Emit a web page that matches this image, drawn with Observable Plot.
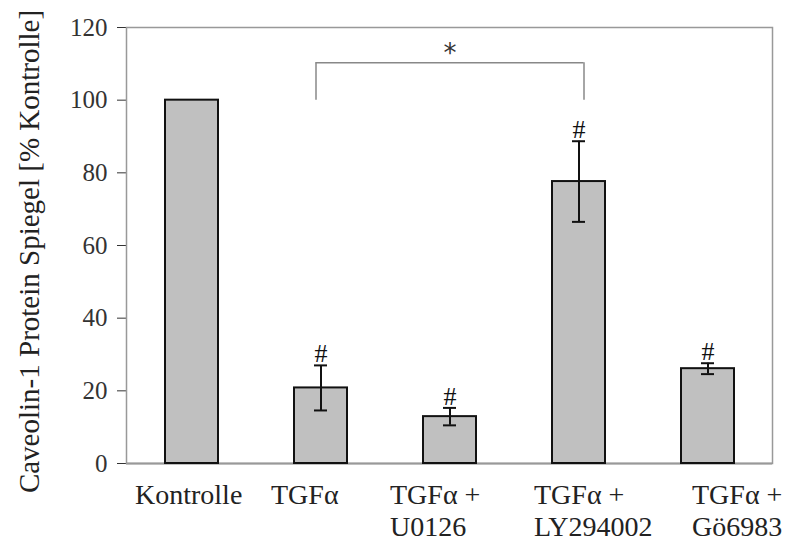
<!DOCTYPE html>
<html>
<head>
<meta charset="utf-8">
<script src="https://cdn.jsdelivr.net/npm/d3@7"></script>
<script src="https://cdn.jsdelivr.net/npm/@observablehq/plot@0.6"></script>
<style>
  html, body { margin: 0; padding: 0; background: #fff; }
  #chart svg { display: block; }
</style>
</head>
<body>
<div id="chart"></div>
<script>
const categories = ["Kontrolle", "TGFα", "TGFα + U0126", "TGFα + LY294002", "TGFα + Gö6983"];
const labelLines = ["Kontrolle", "TGFα", "TGFα +\nU0126", "TGFα +\nLY294002", "TGFα +\nGö6983"];
const values = [100, 20.8, 12.9, 77.6, 26.1];
const errors = [null, 6.2, 2.4, 11.1, 1.5];
const marked = [false, true, true, true, true];
const yTicks = [0, 20, 40, 60, 80, 100, 120];
const bracketPair = ["TGFα", "TGFα + LY294002"];
const bracketLevels = [100, 110.3];
const bracketStarAt = "TGFα + U0126";
const yLabel = "Caveolin-1 Protein Spiegel [% Kontrolle]";

const data = categories.map((c, i) => ({
  cat: c, label: labelLines[i], value: values[i], err: errors[i], mark: marked[i]
}));
const withErr = data.filter(d => d.err != null);

// per-label horizontal shift to mimic the original label placement
const labelShift = [-57, -50, -60, -45, -16];

const serif = "'Liberation Serif', 'Times New Roman', serif";

const labelMarks = data.map((d, i) => Plot.text([d], {
  x: "cat", y: 0, text: "label", textAnchor: "start", lineAnchor: "top",
  dx: labelShift[i], dy: 18, fontSize: 28, lineHeight: 1.13, fill: "#222", fontFamily: serif
}));

const chart = Plot.plot({
  width: 787,
  height: 542,
  marginLeft: 126,
  marginRight: 15,
  marginTop: 27,
  marginBottom: 79,
  style: { fontFamily: serif, fontSize: "25px", color: "#333", background: "#fff", overflow: "visible" },
  x: { domain: categories, paddingInner: 0.59, paddingOuter: 0.295, axis: null },
  y: { domain: [0, 120], ticks: yTicks, tickSize: 9, tickPadding: 10, line: true, label: null },
  marks: [
    Plot.frame({ stroke: "#999", strokeWidth: 1.5 }),
    Plot.ruleY([0], { stroke: "#999", strokeWidth: 2 }),
    Plot.barY(data, { x: "cat", y: "value", fill: "#c0c0c0", stroke: "#111", strokeWidth: 2 }),
    Plot.ruleX(withErr, { x: "cat", y1: d => d.value - d.err, y2: d => d.value + d.err, stroke: "#111", strokeWidth: 2 }),
    Plot.tickY(withErr, { x: "cat", y: d => d.value - d.err, stroke: "#111", strokeWidth: 2, insetLeft: 20, insetRight: 20 }),
    Plot.tickY(withErr, { x: "cat", y: d => d.value + d.err, stroke: "#111", strokeWidth: 2, insetLeft: 20, insetRight: 20 }),
    Plot.text(data.filter(d => d.mark), { x: "cat", y: d => d.value + (d.err || 0), text: () => "#", lineAnchor: "bottom", dy: -3, fontSize: 26, fill: "#111", fontFamily: serif }),
    Plot.ruleX([bracketPair[0]], { x: d => d, y1: bracketLevels[0], y2: bracketLevels[1], dx: -5, stroke: "#888", strokeWidth: 1.5 }),
    Plot.ruleX([bracketPair[1]], { x: d => d, y1: bracketLevels[0], y2: bracketLevels[1], dx: 5, stroke: "#888", strokeWidth: 1.5 }),
    Plot.ruleY([bracketLevels[1]], { x1: () => bracketPair[0], x2: () => bracketPair[1], y: d => d, insetLeft: 21.5, insetRight: 21.5, stroke: "#888", strokeWidth: 1.5 }),
    Plot.text(["*"], { x: () => bracketStarAt, y: bracketLevels[1], text: d => d, lineAnchor: "bottom", dy: -1, fontSize: 26, fontFamily: "'DejaVu Sans', sans-serif", fill: "#333" }),
    Plot.text([yLabel], { frameAnchor: "left", text: d => d, rotate: -90, textAnchor: "middle", lineAnchor: "middle", dx: -97, dy: 6, fontSize: 29, fill: "#222", fontFamily: serif }),
    ...labelMarks
  ]
});
document.getElementById("chart").append(chart);
</script>
</body>
</html>
